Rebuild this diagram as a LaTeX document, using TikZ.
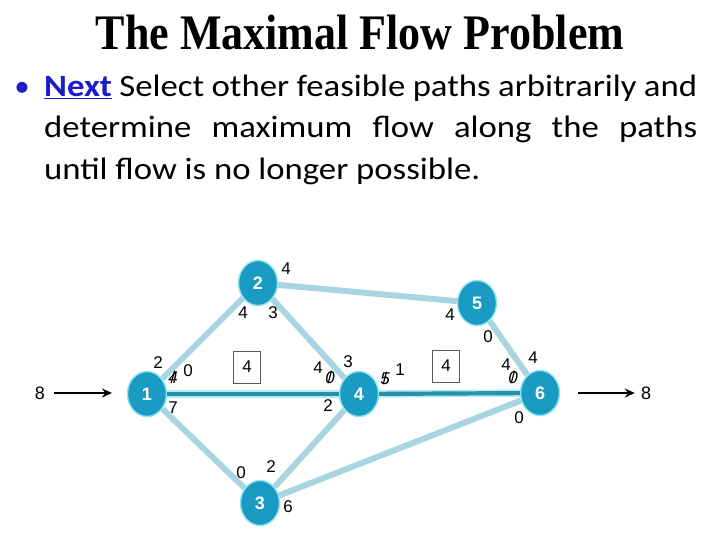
\documentclass[tikz,border=0pt]{standalone}
\usepackage{fontspec}
\setmainfont{Carlito}
\newfontfamily\titlefont{Liberation Serif}
\newfontfamily\labelfont{Liberation Sans}
\usepackage{xcolor}
\usetikzlibrary{arrows.meta,shapes.geometric}

\definecolor{nodeblue}{HTML}{1A9BC3}
\definecolor{edgelight}{HTML}{A8D5E0}
\definecolor{edgedark}{HTML}{2B8FA8}
\definecolor{halo}{HTML}{8FE3F2}
\definecolor{nextblue}{HTML}{1C1CC8}

\newcommand{\crossed}[1]{\ooalign{\itshape#1\cr\hidewidth/\hidewidth\cr}}
\newcommand{\bodyline}[1]{\scalebox{1.12}[1]{#1}}

\begin{document}
\begin{tikzpicture}[
  x=1pt, y=-1pt,
  vertex/.style={ellipse, minimum width=39pt, minimum height=45pt, inner sep=0pt, fill=nodeblue, draw=halo, line width=1.4pt, text=white, font=\labelfont\bfseries\fontsize{18}{18}\selectfont},
  lbl/.style={inner sep=0pt, font=\labelfont\fontsize{17}{17}\selectfont},
  flowlbl/.style={inner sep=0pt, font=\labelfont\fontsize{18}{18}\selectfont},
  capbox/.style={draw=black!65, line width=0.9pt, minimum width=27pt, minimum height=32pt, inner sep=0pt, font=\labelfont\fontsize{17}{17}\selectfont},
  pipe/.style={edgelight, line width=6pt},
  glow/.style={halo!70, line width=7.5pt},
  used/.style={edgedark, line width=4.2pt},
  arr/.style={-{Stealth[length=10pt,width=9pt]}, line width=1.8pt},
]
  \useasboundingbox (0,0) rectangle (720,540);

  % Heading
  \node[anchor=base, inner sep=0pt, font=\titlefont\bfseries\fontsize{44}{44}\selectfont] (title) at (360,50) {\scalebox{1}[1.13]{The Maximal Flow Problem}};
  \node[anchor=base, inner sep=0pt, text=nextblue, font=\fontsize{31}{31}\selectfont] (bullet) at (22,97) {\textbullet};
  \node[anchor=base west, inner sep=0pt, font=\fontsize{31}{31}\selectfont] (line1) at (44,97) {\bodyline{\makebox[583pt][s]{\textcolor{nextblue}{\underline{\textbf{Next}}} Select other feasible paths arbitrarily and}}};
  \node[anchor=base west, inner sep=0pt, font=\fontsize{31}{31}\selectfont] (line2) at (44,138) {\bodyline{\makebox[583pt][s]{determine maximum flow along the paths}}};
  \node[anchor=base west, inner sep=0pt, font=\fontsize{31}{31}\selectfont] (line3) at (44,180) {\bodyline{until flow is no longer possible.}};

  % Network nodes
  \node[vertex] (n1) at (147,394) {1};
  \node[vertex] (n2) at (258,283) {2};
  \node[vertex] (n3) at (260,503) {3};
  \node[vertex] (n4) at (359,394) {4};
  \node[vertex] (n5) at (477,303) {5};
  \node[vertex] (n6) at (540,393) {6};

  % Branches
  \draw[pipe] (n1) -- (n2);
  \draw[pipe] (n2) -- (n4);
  \draw[pipe] (n2) -- (n5);
  \draw[pipe] (n5) -- (n6);
  \draw[pipe] (n1) -- (n3);
  \draw[pipe] (n3) -- (n4);
  \draw[pipe] (n3) -- (n6);
  \draw[glow] (n1) -- (n4);
  \draw[glow] (n4) -- (n6);
  \draw[used] (n1) -- (n4);
  \draw[used] (n4) -- (n6);

  % Source and sink flows
  \node[flowlbl] (src) at (40,393) {8};
  \coordinate (srcend) at (112,393);
  \draw[arr] ([xshift=9pt]src.east) -- (srcend);
  \coordinate (sinkstart) at (578,393);
  \node[flowlbl] (sink) at (646,393) {8};
  \draw[arr] (sinkstart) -- ([xshift=-6pt]sink.west);

  % Branch capacities
  \node[lbl] (c12) at (158,363) {2};
  \node[lbl] (c12x) at (173,378) {\crossed{4}};
  \node[lbl] (c12n) at (188,371) {0};
  \node[lbl] (c13) at (173,408) {7};
  \node[lbl] (c21) at (243,313) {4};
  \node[lbl] (c24) at (273,313) {3};
  \node[lbl] (c25) at (286,269) {4};
  \node[lbl] (c42) at (318,368) {4};
  \node[lbl] (c42x) at (330,378) {\crossed{0}};
  \node[lbl] (c42n) at (348,362) {3};
  \node[lbl] (c43) at (328,406) {2};
  \node[lbl] (c46x) at (385,379) {\crossed{5}};
  \node[lbl] (c46n) at (400,370) {1};
  \node[lbl] (c52) at (450,315) {4};
  \node[lbl] (c56) at (488,337) {0};
  \node[lbl] (c64) at (506,365) {4};
  \node[lbl] (c64x) at (513,378) {\crossed{0}};
  \node[lbl] (c65) at (533,358) {4};
  \node[lbl] (c63) at (519,418) {0};
  \node[lbl] (c31) at (241,473) {0};
  \node[lbl] (c34) at (271,467) {2};
  \node[lbl] (c36) at (288,507) {6};

  % Path flows
  \node[capbox] (flow124) at (247,367) {4};
  \node[capbox] (flow146) at (446,366) {4};
\end{tikzpicture}
\end{document}
